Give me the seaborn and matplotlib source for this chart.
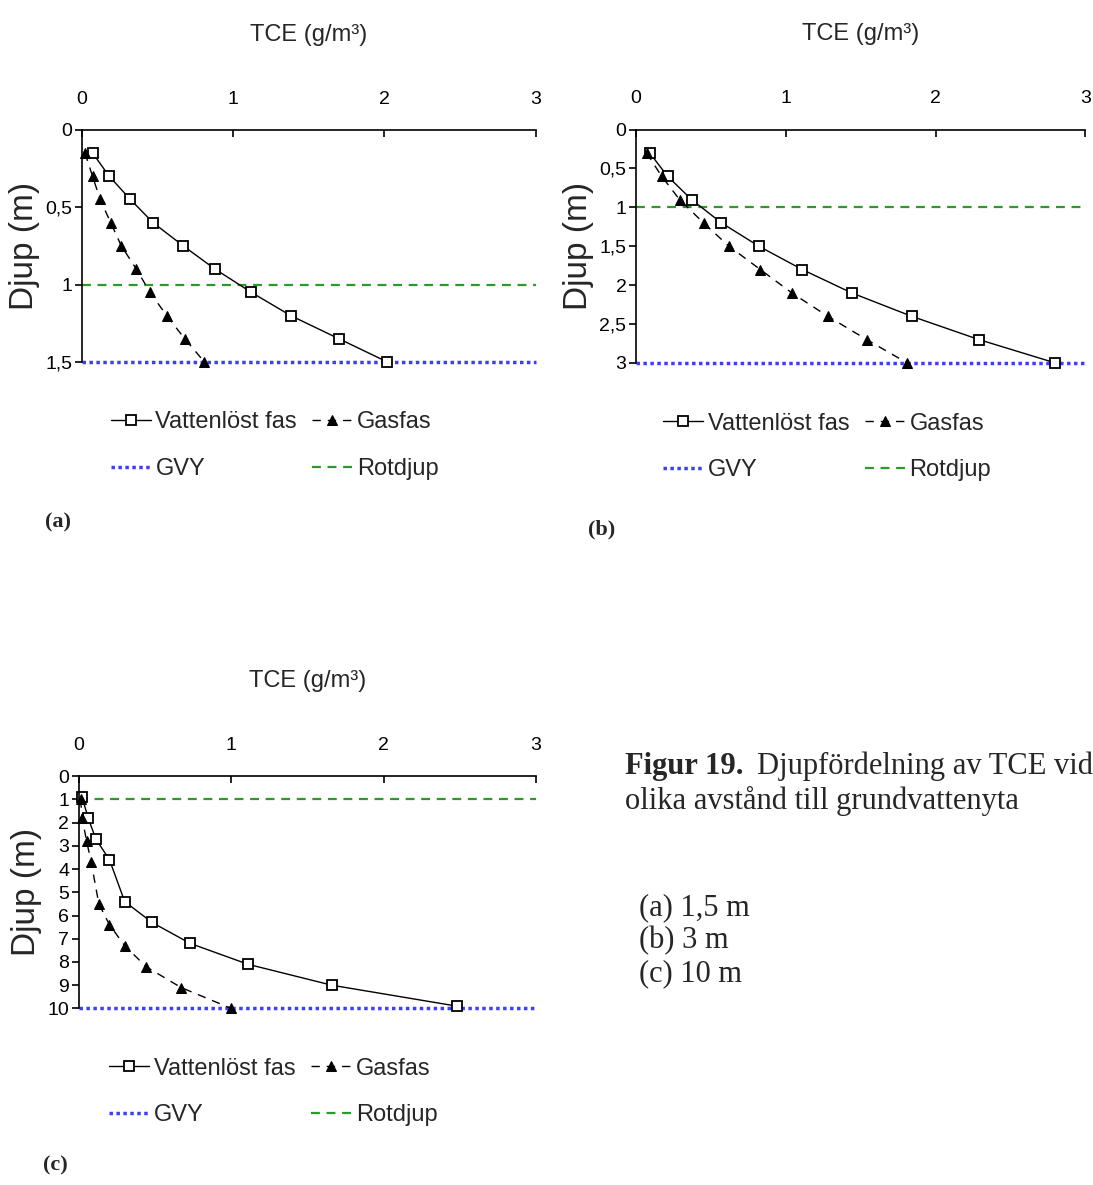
import matplotlib
matplotlib.use("Agg")
import matplotlib.pyplot as plt
import seaborn as sns

# data (depth in m, TCE in g/m3)
a_depth = [0.15, 0.3, 0.45, 0.6, 0.75, 0.9, 1.05, 1.2, 1.35, 1.5]
a_vatten = [0.07, 0.18, 0.32, 0.47, 0.67, 0.88, 1.12, 1.38, 1.70, 2.02]
a_gas = [0.02, 0.07, 0.12, 0.19, 0.26, 0.36, 0.45, 0.56, 0.68, 0.81]

b_depth = [0.3, 0.6, 0.9, 1.2, 1.5, 1.8, 2.1, 2.4, 2.7, 3.0]
b_vatten = [0.09, 0.21, 0.37, 0.57, 0.82, 1.11, 1.44, 1.84, 2.29, 2.80]
b_gas = [0.07, 0.17, 0.29, 0.45, 0.62, 0.83, 1.04, 1.28, 1.54, 1.81]

c_depth_v = [0.9, 1.8, 2.7, 3.6, 5.4, 6.3, 7.2, 8.1, 9.0, 9.9]
c_vatten = [0.02, 0.06, 0.11, 0.20, 0.30, 0.48, 0.73, 1.11, 1.66, 2.48]
c_depth_g = [1.0, 1.8, 2.8, 3.7, 5.5, 6.4, 7.3, 8.2, 9.1, 10.0]
c_gas = [0.01, 0.02, 0.05, 0.08, 0.13, 0.20, 0.30, 0.44, 0.67, 1.0]

gvy = [1.5, 3.0, 10.0]
rotdjup = 1.0
x_ticks = [0, 1, 2, 3]
y_ticks = [[0, 0.5, 1, 1.5], [0, 0.5, 1, 1.5, 2, 2.5, 3], list(range(0, 11))]
panel_labels = ["(a)", "(b)", "(c)"]

sns.set_style("white")
plt.rcParams['font.family'] = ['Liberation Sans', 'DejaVu Sans']

fig = plt.figure(figsize=(10.93, 11.85), dpi=100)

rects = [(0.075, 0.6945, 0.415, 0.196),
         (0.582, 0.6937, 0.411, 0.197),
         (0.0723, 0.149, 0.418, 0.196)]
panels = [(a_depth, a_vatten, a_depth, a_gas),
          (b_depth, b_vatten, b_depth, b_gas),
          (c_depth_v, c_vatten, c_depth_g, c_gas)]
label_pos = [(0.041, 0.555), (0.538, 0.549), (0.039, 0.012)]

for i, (rect, (dv, v, dg, g)) in enumerate(zip(rects, panels)):
    ax = fig.add_axes(rect)
    sns.lineplot(x=v, y=dv, sort=False, estimator=None, ax=ax, color='black', lw=1,
                 marker='s', markersize=7, markerfacecolor='white',
                 markeredgecolor='black', markeredgewidth=1.3, clip_on=False,
                 label='Vattenlöst fas', legend=False)
    sns.lineplot(x=g, y=dg, sort=False, estimator=None, ax=ax, color='black', lw=1,
                 linestyle=(0, (6, 5)), marker='^', markersize=7,
                 markerfacecolor='black', markeredgecolor='black', clip_on=False,
                 label='Gasfas', legend=False)
    ax.axhline(gvy[i], color='#3d3dff', lw=2.5, linestyle=(0, (1, 1)), clip_on=False,
               label='GVY', zorder=1)
    ax.axhline(rotdjup, color='#2a9a2a', lw=1.6, linestyle=(0, (4, 3)), label='Rotdjup',
               zorder=1)

    ax.set_xlim(0, 3)
    ax.set_ylim(gvy[i], 0)
    ax.set_xticks(x_ticks)
    ax.set_yticks(y_ticks[i])
    ax.set_yticklabels([f"{t:g}".replace('.', ',') for t in y_ticks[i]])
    ax.xaxis.tick_top()
    ax.xaxis.set_label_position('top')
    for s in ['bottom', 'right']:
        ax.spines[s].set_visible(False)
    for s in ['top', 'left']:
        ax.spines[s].set_color('black')
        ax.spines[s].set_linewidth(1.2)
    ax.tick_params(axis='x', direction='in', length=5, width=1.2, pad=16, labelsize=14,
                   colors='black')
    ax.tick_params(axis='y', direction='out', length=5, width=1.2, pad=2, labelsize=14,
                   colors='black', left=True)
    ax.set_xlabel('TCE (g/m³)', fontsize=17, labelpad=36)
    ax.set_ylabel('Djup (m)', fontsize=24, labelpad=4)
    ax.grid(False)

    h, l = ax.get_legend_handles_labels()
    order = [0, 2, 1, 3]
    ax.legend([h[k] for k in order], [l[k] for k in order], ncol=2, loc='center',
              bbox_to_anchor=(0.425, -0.36), frameon=False, fontsize=17,
              handlelength=1.7, handletextpad=0.2, columnspacing=0.65,
              labelspacing=1.05, numpoints=1)

    fig.text(label_pos[i][0], label_pos[i][1], panel_labels[i], fontsize=16,
             fontweight='bold', family='Liberation Serif')

serif = 'Liberation Serif'
fig.text(0.572, 0.347, 'Figur 19.', fontsize=22, fontweight='bold', family=serif)
fig.text(0.6926, 0.347, 'Djupfördelning av TCE vid', fontsize=22, family=serif)
fig.text(0.572, 0.317, 'olika avstånd till grundvattenyta', fontsize=22, family=serif)
fig.text(0.585, 0.228, '(a) 1,5 m', fontsize=22, family=serif)
fig.text(0.585, 0.200, '(b) 3 m', fontsize=22, family=serif)
fig.text(0.585, 0.172, '(c) 10 m', fontsize=22, family=serif)

fig.savefig('out.png', dpi=100)
